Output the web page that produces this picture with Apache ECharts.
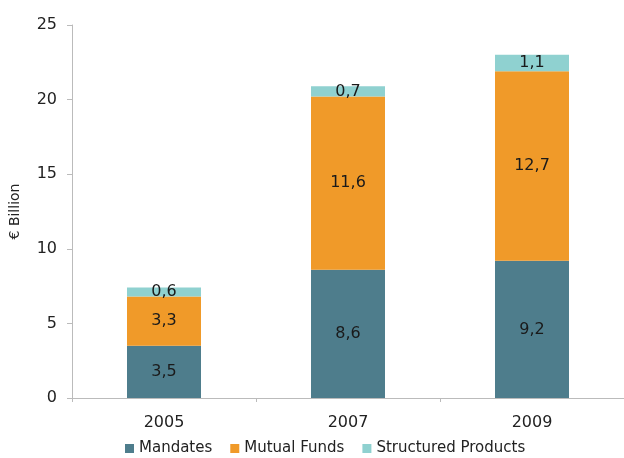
<!DOCTYPE html>
<html><head><meta charset="utf-8">
<script src="https://cdn.jsdelivr.net/npm/echarts@6/dist/echarts.min.js"></script>
<style>html,body{margin:0;padding:0;background:#fff}#c{width:624px;height:458px}</style>
</head><body><div id="c"></div>
<script>
const categories = ['2005', '2007', '2009'];
const mandates = [3.5, 8.6, 9.2];
const mutualFunds = [3.3, 11.6, 12.7];
const structured = [0.6, 0.7, 1.1];
const seriesNames = ['Mandates', 'Mutual Funds', 'Structured Products'];
const yTicks = { min: 0, max: 25, interval: 5 };

const font = 'DejaVu Sans';
const fmt = p => String(p.value).replace('.', ',');
function mk(name, data, color) {
  return {
    name, type: 'bar', stack: 'a', data, barWidth: 74,
    itemStyle: { color },
    label: { show: true, position: 'inside', formatter: fmt, color: '#1a1a1a', fontSize: 16, fontFamily: font }
  };
}
const chart = echarts.init(document.getElementById('c'));
chart.setOption({
  animation: false,
  textStyle: { fontFamily: font },
  grid: { left: 71, right: -2, top: 25, bottom: 60 },
  legend: {
    bottom: -3, left: 120, itemWidth: 9, itemHeight: 9, itemGap: 18,
    icon: 'rect', textStyle: { fontSize: 15, color: '#222', fontFamily: font }
  },
  xAxis: {
    type: 'category', data: categories,
    axisLine: { lineStyle: { color: '#bbb' } },
    axisTick: { show: true, alignWithLabel: false, lineStyle: { color: '#bbb' }, length: 4 },
    axisLabel: { fontSize: 16, color: '#222', margin: 17, fontFamily: font }
  },
  yAxis: {
    type: 'value', min: yTicks.min, max: yTicks.max, interval: yTicks.interval,
    name: '€ Billion', nameLocation: 'middle', nameGap: 50,
    nameTextStyle: { fontSize: 14, color: '#222', fontFamily: font },
    axisLine: { show: true, lineStyle: { color: '#bbb' } },
    axisTick: { show: true, length: 5, lineStyle: { color: '#bbb' } },
    splitLine: { show: false },
    axisLabel: { fontSize: 16, color: '#222', margin: 15, fontFamily: font }
  },
  series: [
    mk(seriesNames[0], mandates, '#4e7d8c'),
    mk(seriesNames[1], mutualFunds, '#f09a29'),
    mk(seriesNames[2], structured, '#8fd1d0')
  ]
});
</script></body></html>
